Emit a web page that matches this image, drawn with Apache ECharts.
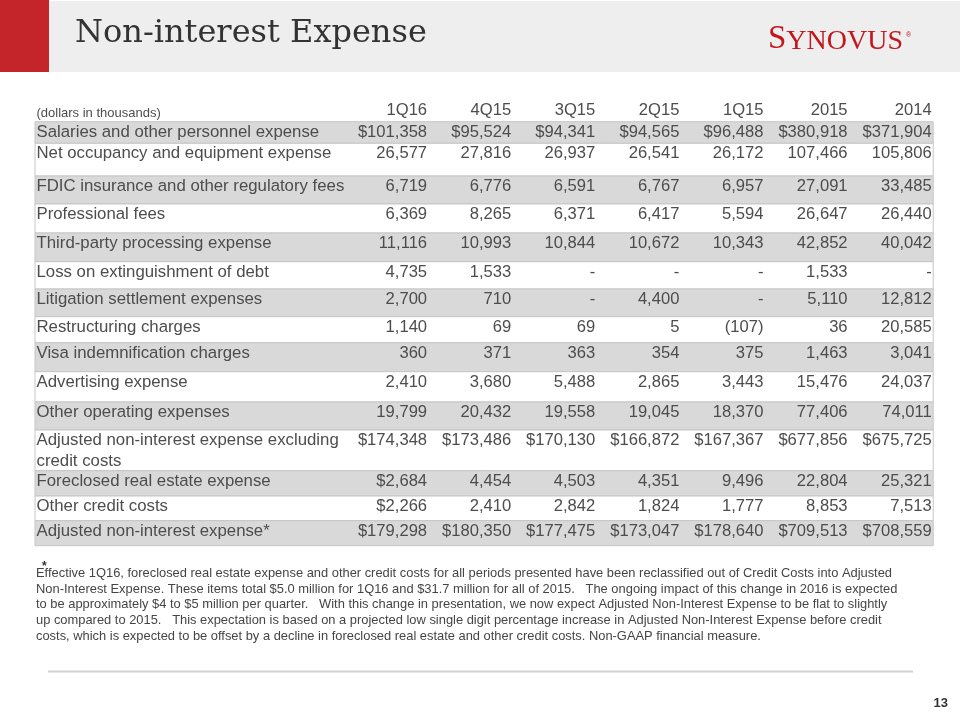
<!DOCTYPE html>
<html><head><meta charset="utf-8">
<script src="https://cdn.jsdelivr.net/npm/echarts@6/dist/echarts.min.js"></script>
<style>html,body{margin:0;padding:0;background:#fff}#c{width:960px;height:720px}</style>
</head><body><div id="c"></div>
<script>
// ---------- data ----------
const titleText = 'Non-interest Expense';
const unitNote = '(dollars in thousands)';
const periods = ['1Q16', '4Q15', '3Q15', '2Q15', '1Q15', '2015', '2014'];
const rowLabels = [
  'Salaries and other personnel expense',
  'Net occupancy and equipment expense',
  'FDIC insurance and other regulatory fees',
  'Professional fees',
  'Third-party processing expense',
  'Loss on extinguishment of debt',
  'Litigation settlement expenses',
  'Restructuring charges',
  'Visa indemnification charges',
  'Advertising expense',
  'Other operating expenses',
  'Adjusted non-interest expense excluding\ncredit costs',
  'Foreclosed real estate expense',
  'Other credit costs',
  'Adjusted non-interest expense*'
];
const v1Q16 = [101358, 26577, 6719, 6369, 11116, 4735, 2700, 1140, 360, 2410, 19799, 174348, 2684, 2266, 179298];
const v4Q15 = [95524, 27816, 6776, 8265, 10993, 1533, 710, 69, 371, 3680, 20432, 173486, 4454, 2410, 180350];
const v3Q15 = [94341, 26937, 6591, 6371, 10844, null, null, 69, 363, 5488, 19558, 170130, 4503, 2842, 177475];
const v2Q15 = [94565, 26541, 6767, 6417, 10672, null, 4400, 5, 354, 2865, 19045, 166872, 4351, 1824, 173047];
const v1Q15 = [96488, 26172, 6957, 5594, 10343, null, null, -107, 375, 3443, 18370, 167367, 9496, 1777, 178640];
const v2015 = [380918, 107466, 27091, 26647, 42852, 1533, 5110, 36, 1463, 15476, 77406, 677856, 22804, 8853, 709513];
const v2014 = [371904, 105806, 33485, 26440, 40042, null, 12812, 20585, 3041, 24037, 74011, 675725, 25321, 7513, 708559];
const columns = [v1Q16, v4Q15, v3Q15, v2Q15, v1Q15, v2015, v2014];
const dollarRows = [0, 11, 14];          // rows shown with $ in every column
const dollarRows1Q16 = [12, 13];         // extra $ cells in the 1Q16 column
const footnoteLines = [
  'Effective 1Q16, foreclosed real estate expense and other credit costs for all periods presented have been reclassified out of Credit Costs into Adjusted',
  'Non-Interest Expense. These items total $5.0 million for 1Q16 and $31.7 million for all of 2015.   The ongoing impact of this change in 2016 is expected',
  'to be approximately $4 to $5 million per quarter.   With this change in presentation, we now expect Adjusted Non-Interest Expense to be flat to slightly',
  'up compared to 2015.   This expectation is based on a projected low single digit percentage increase in Adjusted Non-Interest Expense before credit',
  'costs, which is expected to be offset by a decline in foreclosed real estate and other credit costs. Non-GAAP financial measure.'
];
const pageNumber = '13';

// ---------- layout ----------
const rowHeights = [21.6, 32.7, 28, 29, 28.7, 27.3, 27.7, 26, 29, 30.3, 28, 40.7, 25.3, 24.7, 25];
const tableTop = 121.7;
const tableLeft = 35;
const gridLeft = 344.5;
const gridRight = 933.2;
const FONT = '"Liberation Sans", Arial, Helvetica, sans-serif';
const TXT = '#4d4d4d';

const rowTops = [];
let acc = 0;
rowHeights.forEach(h => { rowTops.push(acc); acc += h; });
const tableH = acc;
const seriesData = rowLabels.map((l, i) => [i, rowTops[i], rowTops[i] + rowHeights[i]]);

function fmt(v, row, col) {
  if (v === null) return '-';
  let s = Math.abs(v).toLocaleString('en-US');
  if (v < 0) s = '(' + s + ')';
  if (dollarRows.includes(row) || (col === 0 && dollarRows1Q16.includes(row))) s = '$' + s;
  return s;
}

function renderItem(params, api) {
  const i = api.value(0);
  const top = api.coord([0, api.value(1)])[1];
  const bot = api.coord([0, api.value(2)])[1];
  const bw = api.size([1, 0])[0];
  const cs = params.coordSys;
  const right = cs.x + cs.width;
  const children = [];
  children.push({
    type: 'rect',
    shape: { x: tableLeft, y: top, width: right - tableLeft, height: bot - top },
    style: { fill: i % 2 === 0 ? '#d9d9d9' : '#ffffff', stroke: '#c6c6c6', lineWidth: 1 }
  });
  children.push({
    type: 'text',
    style: { x: tableLeft + 1.5, y: top - 0.5, text: rowLabels[i], fill: TXT,
      font: '16.8px ' + FONT, lineHeight: 21.5, align: 'left', verticalAlign: 'top' }
  });
  for (let j = 0; j < periods.length; j++) {
    const cx = api.coord([j, 0])[0];
    children.push({
      type: 'text',
      style: { x: cx + bw / 2 - 1.5, y: top - 0.5, text: fmt(columns[j][i], i, j), fill: TXT,
        font: '16.6px ' + FONT, lineHeight: 21.5, align: 'right', verticalAlign: 'top' }
    });
  }
  if (i === 0) {
    children.push({
      type: 'text',
      style: { x: tableLeft + 1.5, y: top - 8.5, text: unitNote, fill: TXT,
        font: '13px ' + FONT, align: 'left', verticalAlign: 'middle' }
    });
    for (let j = 0; j < periods.length; j++) {
      const cx = api.coord([j, 0])[0];
      children.push({
        type: 'text',
        style: { x: cx + bw / 2 - 1.5, y: top - 11, text: periods[j], fill: TXT,
          font: '16.6px ' + FONT, align: 'right', verticalAlign: 'middle' }
      });
    }
  }
  return { type: 'group', children };
}

const chart = echarts.init(document.getElementById('c'), null, { renderer: 'canvas' });

const graphics = [
  { type: 'rect', shape: { x: 0, y: 1, width: 960, height: 71 }, style: { fill: '#eeeeee' } },
  { type: 'rect', shape: { x: 0, y: 0, width: 49, height: 72 }, style: { fill: '#c3252a' } },
  { type: 'text', style: { x: 75, y: 34, text: titleText, fill: '#333333',
      font: '32px "DejaVu Serif", Georgia, serif', align: 'left', verticalAlign: 'middle' } },
  { type: 'text', style: { x: 768, y: 56, text: '{a|S}{b|YNOVUS}', align: 'left', verticalAlign: 'bottom',
      rich: {
        a: { fontFamily: '"Liberation Serif", "Times New Roman", serif', fontSize: 33, fill: '#c4161c', verticalAlign: 'bottom', lineHeight: 33 },
        b: { fontFamily: '"Liberation Serif", "Times New Roman", serif', fontSize: 28, fill: '#c4161c', verticalAlign: 'bottom', lineHeight: 33 }
      } } },
  { type: 'text', style: { x: 906, y: 35, text: '®', fill: '#c4161c', font: '7px ' + FONT, align: 'left', verticalAlign: 'middle' } },
  { type: 'text', style: { x: 42, y: 567, text: '*', fill: '#333', font: 'bold 12px ' + FONT, align: 'left', verticalAlign: 'middle' } },
  { type: 'text', style: { x: 36, y: 565.5, text: footnoteLines.join('\n'), fill: '#454545',
      font: '12.9px ' + FONT, lineHeight: 15.7, align: 'left', verticalAlign: 'top' } },
  { type: 'line', shape: { x1: 48, y1: 671.5, x2: 913, y2: 671.5 }, style: { stroke: '#d2d2d2', lineWidth: 2 } },
  { type: 'text', style: { x: 948, y: 703, text: pageNumber, fill: '#333', font: 'bold 13px ' + FONT, align: 'right', verticalAlign: 'middle' } }
];

chart.setOption({
  animation: false,
  backgroundColor: '#ffffff',
  grid: { left: gridLeft, top: tableTop, width: gridRight - gridLeft, height: tableH },
  xAxis: { type: 'category', data: periods, show: false, boundaryGap: true },
  yAxis: { type: 'value', min: 0, max: tableH, inverse: true, show: false },
  series: [{
    type: 'custom',
    renderItem: renderItem,
    clip: false,
    encode: { x: 0, y: [1, 2] },
    data: seriesData,
    silent: true
  }],
  graphic: graphics
});
</script>
</body></html>
